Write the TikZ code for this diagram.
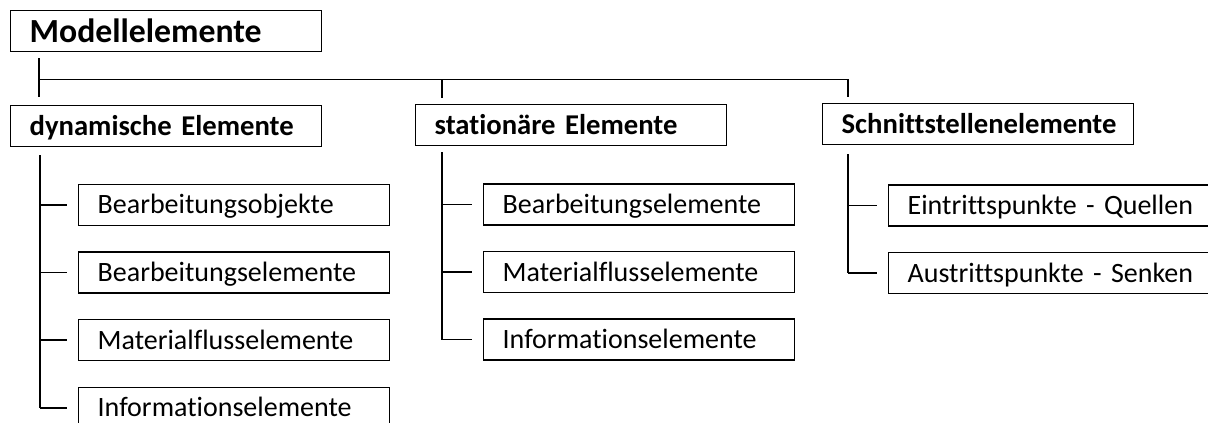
\documentclass[tikz,border=0pt]{standalone}
\usepackage{fontspec}
\setmainfont[Ligatures=NoCommon,WordSpace=0.75]{Carlito}
\usepackage{tikz}
\usetikzlibrary{positioning,calc}
\tikzset{elem/.style={draw, line width=1pt, anchor=north west,
    font=\fontsize{21}{24}\selectfont, text width=204.75pt, align=left,
    inner xsep=14.25pt, inner ysep=0pt, minimum height=30.75pt,
    text height=13.5pt, text depth=0pt},
  head/.style={elem, font=\fontsize{21.5}{24}\selectfont\bfseries},
  tree/.style={line width=1.2pt}}

\begin{document}
\begin{tikzpicture}[x=0.75pt,y=-0.75pt]
\clip (0,0) rectangle (1208,423);

\node[head,font=\fontsize{25.3}{28}\selectfont\bfseries,text height=16.3pt] (modell) at (10,10) {Modellelemente};
\node[head] (dyn) at (10,105) {dynamische Elemente};
\node[head] (stat) at (415,104) {stationäre Elemente};
\node[head] (schnitt) at (822,103) {Schnittstellenelemente};

\foreach \name [count=\i] in {Bearbeitungsobjekte,Bearbeitungselemente,Materialflusselemente,Informationselemente}
  \node[elem] (d\i) at (78,116+67.7*\i) {\name};
\foreach \name [count=\i] in {Bearbeitungselemente,Materialflusselemente,Informationselemente}
  \node[elem] (s\i) at (483,116+67.5*\i) {\name};
\foreach \name [count=\i] in {Eintrittspunkte - Quellen,Austrittspunkte - Senken}
  \node[elem,text width=225pt] (q\i) at (888,117+67.5*\i) {\name};

% top level
\coordinate (bar) at ([shift={(29,27)}]modell.south west);
\coordinate (s0) at ([shift={(27,-6)}]stat.north west);
\draw[tree] ([shift={(29,6)}]modell.south west) -- ([shift={(29,-8)}]dyn.north west);
\draw[tree] (bar) -| ([shift={(26,-6)}]schnitt.north west);
\draw[tree] (s0 |- bar) -- (s0);

% sub levels
\coordinate (dv) at ([shift={(30,8)}]dyn.south west);
\coordinate (sv) at ([shift={(27,6)}]stat.south west);
\coordinate (qv) at ([shift={(26,9)}]schnitt.south west);
\draw[tree] (dv) -- (dv |- d4.west);
\draw[tree] (sv) -- (sv |- s3.west);
\draw[tree] (qv) -- (qv |- q2.west);
\foreach \i in {1,...,4}
  \draw[tree,shorten >=8.25pt] (dv |- d\i.west) -- (d\i.west);
\foreach \i in {1,2,3}
  \draw[tree,shorten >=8.25pt] (sv |- s\i.west) -- (s\i.west);
\foreach \i in {1,2}
  \draw[tree,shorten >=8.25pt] (qv |- q\i.west) -- (q\i.west);
\end{tikzpicture}
\end{document}
